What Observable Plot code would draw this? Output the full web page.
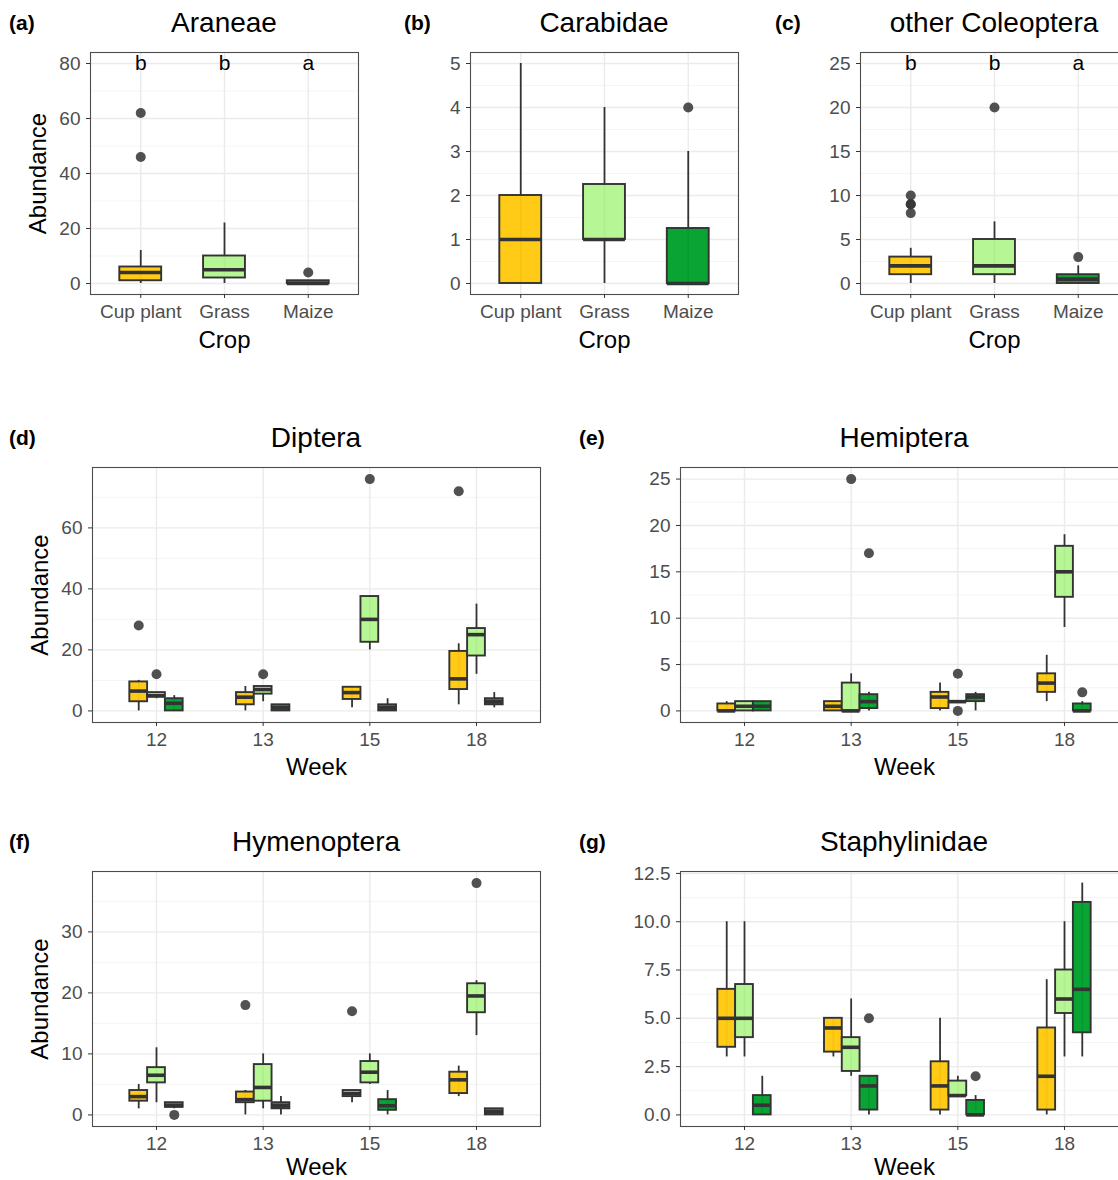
<!DOCTYPE html>
<html>
<head>
<meta charset="utf-8">
<script src="https://cdn.jsdelivr.net/npm/d3@7"></script>
<script src="https://cdn.jsdelivr.net/npm/@observablehq/plot@0.6"></script>
<style>
  html, body { margin: 0; padding: 0; overflow: hidden; background: #fff; }
  #root { position: relative; width: 1118px; height: 1180px; overflow: hidden; font-family: "Liberation Sans", Arial, sans-serif; }
  .panel { position: absolute; }
  .title { position: absolute; font-size: 28px; color: #000; transform: translate(-50%, -50%); white-space: nowrap; }
  .tag { position: absolute; font-size: 21px; font-weight: bold; color: #000; transform: translateY(-50%); }
</style>
</head>
<body>
<div id="root"></div>
<script>
// ---------- categories ----------
const crops = ["Cup plant", "Grass", "Maize"];
const weeks = [12, 13, 15, 18];
const cropColors = ["#ffc90c", "#b4f690", "#00a02c"];

// ---------- crop panels: [crop, whiskerLow, q1, median, q3, whiskerHigh] ----------
const araneaeBox = [
  ["Cup plant", 0, 1, 4, 6, 12],
  ["Grass", 0, 2, 5, 10, 22],
  ["Maize", 0, 0, 0, 1, 1]
];
const araneaeOut = [["Cup plant", 62], ["Cup plant", 46], ["Maize", 4]];
const araneaeLetters = [["Cup plant", "b"], ["Grass", "b"], ["Maize", "a"]];
const araneaeLetterY = 80;

const carabidaeBox = [
  ["Cup plant", 0, 0, 1, 2, 5],
  ["Grass", 0, 1, 1, 2.25, 4],
  ["Maize", 0, 0, 0, 1.25, 3]
];
const carabidaeOut = [["Maize", 4]];

const coleopteraBox = [
  ["Cup plant", 0, 1, 2, 3, 4],
  ["Grass", 0, 1, 2, 5, 7],
  ["Maize", 0, 0, 0.5, 1, 2]
];
const coleopteraOut = [["Cup plant", 8], ["Cup plant", 9], ["Cup plant", 9], ["Cup plant", 10], ["Grass", 20], ["Maize", 3]];
const coleopteraLetters = [["Cup plant", "b"], ["Grass", "b"], ["Maize", "a"]];
const coleopteraLetterY = 25;

// ---------- week panels: [week, crop, whiskerLow, q1, median, q3, whiskerHigh] ----------
const dipteraBox = [
  [12, "Cup plant", 0, 3, 6.5, 9.5, 10], [12, "Grass", 4, 4.5, 5, 6, 6], [12, "Maize", 0, 0, 2.5, 4, 5],
  [13, "Cup plant", 0, 2, 4.5, 6, 8], [13, "Grass", 3, 5.5, 7, 8, 8], [13, "Maize", 0, 0, 1, 2, 2],
  [15, "Cup plant", 1, 3.75, 6, 7.75, 8], [15, "Grass", 20, 22.5, 30, 37.5, 37.5], [15, "Maize", 0, 0, 1, 2, 4],
  [18, "Cup plant", 2, 7, 10.5, 19.5, 22], [18, "Grass", 12, 18, 25, 27, 35], [18, "Maize", 1, 2, 3, 4, 6]
];
const dipteraOut = [[12, "Cup plant", 28], [12, "Grass", 12], [13, "Grass", 12], [15, "Grass", 76], [18, "Cup plant", 72]];

const hemipteraBox = [
  [12, "Cup plant", 0, 0, 0, 0.75, 1], [12, "Grass", 0, 0, 0.5, 1, 1], [12, "Maize", 0, 0, 0.5, 1, 1],
  [13, "Cup plant", 0, 0, 0.5, 1, 1], [13, "Grass", 0, 0, 0, 3, 4], [13, "Maize", 0, 0.25, 1, 1.75, 2],
  [15, "Cup plant", 0, 0.25, 1.5, 2, 3], [15, "Grass", 1, 1, 1, 1, 1], [15, "Maize", 0, 1, 1.5, 1.75, 2],
  [18, "Cup plant", 1, 2, 3, 4, 6], [18, "Grass", 9, 12.25, 15, 17.75, 19], [18, "Maize", 0, 0, 0, 0.75, 1]
];
const hemipteraOut = [[13, "Grass", 25], [13, "Maize", 17], [15, "Grass", 4], [15, "Grass", 0], [18, "Maize", 2]];

const hymenopteraBox = [
  [12, "Cup plant", 1, 2.25, 3, 4, 5], [12, "Grass", 2, 5.25, 6.5, 7.75, 11], [12, "Maize", 1, 1.25, 1.5, 2, 2],
  [13, "Cup plant", 0, 2, 2.5, 3.75, 4], [13, "Grass", 1, 2.25, 4.5, 8.25, 10], [13, "Maize", 0, 1, 1.5, 2, 3],
  [15, "Cup plant", 2, 3, 3.5, 4, 4], [15, "Grass", 5, 5.25, 7, 8.75, 10], [15, "Maize", 0, 0.75, 1.5, 2.5, 4],
  [18, "Cup plant", 3, 3.5, 5.75, 7, 8], [18, "Grass", 13, 16.75, 19.5, 21.5, 22], [18, "Maize", 0, 0, 0.5, 1, 1]
];
const hymenopteraOut = [[12, "Maize", 0], [13, "Cup plant", 18], [15, "Cup plant", 17], [18, "Grass", 38]];

const staphylinidaeBox = [
  [12, "Cup plant", 3, 3.5, 5, 6.5, 10], [12, "Grass", 3, 4, 5, 6.75, 10], [12, "Maize", 0, 0, 0.5, 1, 2],
  [13, "Cup plant", 3, 3.25, 4.5, 5, 5], [13, "Grass", 2, 2.25, 3.5, 4, 6], [13, "Maize", 0, 0.25, 1.5, 2, 2],
  [15, "Cup plant", 0, 0.25, 1.5, 2.75, 5], [15, "Grass", 1, 1, 1, 1.75, 2], [15, "Maize", 0, 0, 0, 0.75, 1],
  [18, "Cup plant", 0, 0.25, 2, 4.5, 7], [18, "Grass", 3, 5.25, 6, 7.5, 10], [18, "Maize", 3, 4.25, 6.5, 11, 12]
];
const staphylinidaeOut = [[13, "Maize", 5], [15, "Maize", 2]];

// ---------- panel drawing ----------
const root = document.getElementById("root");
const INK = "#333333";

function addText(cls, text, left, top) {
  const d = document.createElement("div");
  d.className = cls; d.textContent = text;
  d.style.left = left + "px"; d.style.top = top + "px";
  root.appendChild(d);
}

function panel(spec) {
  const [fx0, fx1, fy0, fy1] = spec.frame;
  const mL = 90, mR = 20, mT = 12, mB = 70;
  const width = (fx1 - fx0) + mL + mR;
  const height = (fy1 - fy0) + mT + mB;
  const nGroups = spec.byWeek ? weeks.length : crops.length;
  const hw = spec.byWeek ? 1 / 12 : 0.25;
  const ci = c => crops.indexOf(c);
  const pos = spec.byWeek
    ? (w, c) => weeks.indexOf(w) + 1 + (ci(c) - 1) / 6
    : (w, c) => ci(c) + 1;
  const rows = spec.rows.map(r => spec.byWeek
    ? {x: pos(r[0], r[1]), crop: r[1], lo: r[2], q1: r[3], med: r[4], q3: r[5], hi: r[6]}
    : {x: pos(null, r[0]), crop: r[0], lo: r[1], q1: r[2], med: r[3], q3: r[4], hi: r[5]});
  const outs = spec.outs.map(o => spec.byWeek ? {x: pos(o[0], o[1]), y: o[2]} : {x: pos(null, o[0]), y: o[1]});
  const xTicks = d3.range(1, nGroups + 1);
  const xFmt = spec.byWeek ? i => String(weeks[i - 1]) : i => crops[i - 1];

  const marks = [
    Plot.gridY(spec.yMinor, {stroke: "#f3f3f3", strokeOpacity: 1, strokeWidth: 0.8}),
    Plot.gridY(spec.yMajor, {stroke: "#ebebeb", strokeOpacity: 1, strokeWidth: 1.4}),
    Plot.gridX(xTicks, {stroke: "#ebebeb", strokeOpacity: 1, strokeWidth: 1.4}),
    Plot.ruleX(rows, {x: "x", y1: "lo", y2: "hi", stroke: INK, strokeWidth: 1.8}),
    Plot.rect(rows, {x1: d => d.x - hw, x2: d => d.x + hw, y1: "q1", y2: "q3",
      fill: d => cropColors[ci(d.crop)], fillOpacity: 0.96, stroke: INK, strokeWidth: 1.9}),
    Plot.ruleY(rows, {x1: d => d.x - hw, x2: d => d.x + hw, y: "med", stroke: INK, strokeWidth: 3.6}),
    Plot.dot(outs, {x: "x", y: "y", r: 5, fill: "#333", fillOpacity: 0.85, stroke: "none"}),
    Plot.frame({stroke: "#4d4d4d", strokeWidth: 1.1}),
    Plot.axisY(spec.yMajor, {tickSize: 4, tickPadding: 6, fontSize: 19, fill: "#4d4d4d", stroke: INK,
      label: null, tickFormat: spec.yFormat}),
    Plot.axisX(xTicks, {tickSize: 4, tickPadding: 6, fontSize: 19, fill: "#4d4d4d", stroke: INK,
      label: null, tickFormat: xFmt}),
    Plot.text([spec.xLabel], {frameAnchor: "bottom", dy: spec.xLabelDy, text: d => d, fontSize: 24,
      fill: "#000", lineAnchor: "middle", textAnchor: "middle"})
  ];
  if (spec.yLabel) {
    marks.push(Plot.text([spec.yLabel], {frameAnchor: "left", dx: -52, rotate: -90, text: d => d,
      fontSize: 24, fill: "#000", lineAnchor: "middle", textAnchor: "middle"}));
  }
  if (spec.letters) {
    marks.push(Plot.text(spec.letters, {x: d => pos(null, d[0]), y: () => spec.letterY, text: d => d[1],
      fontSize: 21, fill: "#000", lineAnchor: "middle"}));
  }
  const svg = Plot.plot({
    width, height, marginLeft: mL, marginRight: mR, marginTop: mT, marginBottom: mB,
    x: {domain: [0.4, nGroups + 0.6], axis: null},
    y: {domain: spec.yDomain, axis: null},
    color: {type: "identity"},
    style: {background: "transparent", overflow: "visible", maxWidth: "none",
      fontFamily: "'Liberation Sans', Arial, sans-serif"},
    marks
  });
  svg.classList.add("panel");
  svg.style.position = "absolute";
  svg.style.left = (fx0 - mL) + "px";
  svg.style.top = (fy0 - mT) + "px";
  root.appendChild(svg);
  addText("title", spec.title, (fx0 + fx1) / 2, spec.titleY);
  addText("tag", spec.tag, spec.tagX, spec.titleY);
}

const r = (a, b, s) => d3.range(a, b + s / 2, s);

panel({title: "Araneae", tag: "(a)", tagX: 9, titleY: 23, rows: araneaeBox, outs: araneaeOut, byWeek: false,
  yDomain: [-4, 84], yMajor: r(0, 80, 20), yMinor: r(10, 70, 20), yFormat: d3.format("d"),
  xLabel: "Crop", xLabelDy: 46, yLabel: "Abundance", letters: araneaeLetters, letterY: araneaeLetterY, frame: [90, 358, 52, 294]});
panel({title: "Carabidae", tag: "(b)", tagX: 404, titleY: 23, rows: carabidaeBox, outs: carabidaeOut, byWeek: false,
  yDomain: [-0.25, 5.25], yMajor: r(0, 5, 1), yMinor: r(0.5, 4.5, 1), yFormat: d3.format("d"),
  xLabel: "Crop", xLabelDy: 46, frame: [470, 738, 52, 294]});
panel({title: "other Coleoptera", tag: "(c)", tagX: 775, titleY: 23, rows: coleopteraBox, outs: coleopteraOut, byWeek: false,
  yDomain: [-1.25, 26.25], yMajor: r(0, 25, 5), yMinor: r(2.5, 22.5, 5), yFormat: d3.format("d"),
  xLabel: "Crop", xLabelDy: 46, letters: coleopteraLetters, letterY: coleopteraLetterY, frame: [860, 1128, 52, 294]});
panel({title: "Diptera", tag: "(d)", tagX: 9, titleY: 438, rows: dipteraBox, outs: dipteraOut, byWeek: true,
  yDomain: [-3.8, 79.8], yMajor: r(0, 60, 20), yMinor: r(10, 70, 20), yFormat: d3.format("d"),
  xLabel: "Week", xLabelDy: 45, yLabel: "Abundance", frame: [92, 540, 467, 722]});
panel({title: "Hemiptera", tag: "(e)", tagX: 579, titleY: 438, rows: hemipteraBox, outs: hemipteraOut, byWeek: true,
  yDomain: [-1.25, 26.25], yMajor: r(0, 25, 5), yMinor: r(2.5, 22.5, 5), yFormat: d3.format("d"),
  xLabel: "Week", xLabelDy: 45, frame: [680, 1128, 467, 722]});
panel({title: "Hymenoptera", tag: "(f)", tagX: 9, titleY: 842, rows: hymenopteraBox, outs: hymenopteraOut, byWeek: true,
  yDomain: [-1.9, 39.9], yMajor: r(0, 30, 10), yMinor: r(5, 35, 10), yFormat: d3.format("d"),
  xLabel: "Week", xLabelDy: 41, yLabel: "Abundance", frame: [92, 540, 871, 1126]});
panel({title: "Staphylinidae", tag: "(g)", tagX: 579, titleY: 842, rows: staphylinidaeBox, outs: staphylinidaeOut, byWeek: true,
  yDomain: [-0.6, 12.6], yMajor: r(0, 12.5, 2.5), yMinor: r(1.25, 11.25, 2.5), yFormat: d3.format(".1f"),
  xLabel: "Week", xLabelDy: 41, frame: [680, 1128, 871, 1126]});
</script>
</body>
</html>
